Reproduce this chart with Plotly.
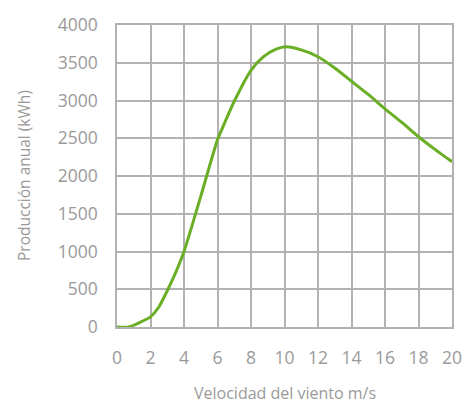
import plotly.graph_objects as go

wind_speed = [0, 0.7, 1.5, 2.0, 2.5, 3.0, 3.5, 4.0, 5.0, 6.0, 6.4, 7.0, 8.0, 8.75,
              9.5, 10.1, 11.0, 12.0, 13.0, 14.0, 15.0, 16.0, 17.0, 18.0, 19.0, 20.0]
production = [0, 0, 75, 135, 265, 480, 720, 1000, 1730, 2480, 2690, 2990, 3400, 3580,
              3680, 3712, 3670, 3580, 3430, 3255, 3080, 2890, 2710, 2520, 2350, 2190]

x_ticks = list(range(0, 21, 2))
y_ticks = list(range(0, 4001, 500))

FONT = "Open Sans"
GRAY = "#9a9a9a"
GRID = "#b3b1b1"

fig = go.Figure()
fig.add_trace(go.Scatter(
    x=wind_speed, y=production, mode="lines",
    line=dict(color="#6aae26", width=3, shape="spline", smoothing=0.6),
    hoverinfo="skip", showlegend=False,
))

fig.update_layout(
    width=474, height=405,
    margin=dict(l=117, r=15, t=19, b=78),
    paper_bgcolor="white", plot_bgcolor="white",
    font=dict(family=FONT, color=GRAY, size=17),
    xaxis=dict(range=[0, 20], tickvals=x_ticks, ticktext=[str(v) for v in x_ticks],
               showgrid=True, gridcolor=GRID, gridwidth=1.5,
               showline=True, linecolor=GRID, linewidth=1.5, mirror=True,
               zeroline=False, ticks="", ticklabelstandoff=14,
               tickfont=dict(size=17.5, color=GRAY)),
    yaxis=dict(range=[0, 4000], tickvals=y_ticks, ticktext=[str(v) for v in y_ticks],
               showgrid=True, gridcolor=GRID, gridwidth=1.5,
               showline=True, linecolor=GRID, linewidth=1.5, mirror=True,
               zeroline=False, ticks="", ticklabelstandoff=14,
               tickfont=dict(size=17.5, color=GRAY)),
    annotations=[
        dict(text="Velocidad del viento m/s", xref="paper", yref="paper",
             x=(288 - 117) / 342, y=-(394 - 327) / 308, xanchor="center", yanchor="middle",
             showarrow=False, font=dict(size=16, color=GRAY, family=FONT)),
        dict(text="Producción anual (kWh)", xref="paper", yref="paper",
             x=-(117 - 22) / 342, y=(327 - 172) / 308, xanchor="center", yanchor="middle",
             textangle=-90, showarrow=False, font=dict(size=15.5, color=GRAY, family=FONT)),
    ],
)

fig.write_html("out.html", config={"displayModeBar": False},
               post_script="document.body.style.margin='0';")
